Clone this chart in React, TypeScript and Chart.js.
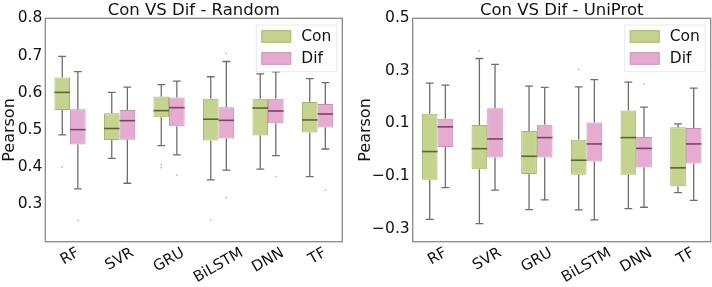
import React, { useEffect, useRef } from 'react';
import { Chart, registerables } from 'chart.js';

Chart.register(...registerables);

const categories = ['RF', 'SVR', 'GRU', 'BiLSTM', 'DNN', 'TF'];
const seriesNames = ['Con', 'Dif'];

// ---- Random split ----
const randomConLow = [0.487, 0.424, 0.458, 0.366, 0.395, 0.375];
const randomConQ1 = [0.554, 0.473, 0.534, 0.472, 0.485, 0.493];
const randomConMedian = [0.601, 0.504, 0.552, 0.529, 0.559, 0.527];
const randomConQ3 = [0.641, 0.545, 0.59, 0.584, 0.584, 0.575];
const randomConHigh = [0.698, 0.601, 0.622, 0.643, 0.651, 0.638];
const randomConOutliers = [[0.401], [], [0.407, 0.399], [0.258], [], []];

const randomDifLow = [0.342, 0.357, 0.433, 0.392, 0.431, 0.449];
const randomDifQ1 = [0.461, 0.474, 0.51, 0.477, 0.518, 0.507];
const randomDifMedian = [0.501, 0.525, 0.56, 0.526, 0.551, 0.543];
const randomDifQ3 = [0.556, 0.554, 0.587, 0.561, 0.584, 0.57];
const randomDifHigh = [0.657, 0.615, 0.631, 0.684, 0.656, 0.627];
const randomDifOutliers = [[0.257], [], [0.379], [0.706, 0.318], [0.375], [0.338]];

const randomTicks = [0.3, 0.4, 0.5, 0.6, 0.7, 0.8];

// ---- UniProt split ----
const uniprotConLow = [-0.265, -0.281, -0.228, -0.229, -0.224, -0.163];
const uniprotConQ1 = [-0.114, -0.074, -0.092, -0.095, -0.095, -0.139];
const uniprotConMedian = [-0.007, 0.004, -0.025, -0.04, 0.046, -0.069];
const uniprotConQ3 = [0.137, 0.094, 0.071, 0.038, 0.149, 0.085];
const uniprotConHigh = [0.253, 0.347, 0.242, 0.239, 0.257, 0.098];
const uniprotConOutliers = [[], [0.377], [], [0.306], [], []];

const uniprotDifLow = [-0.144, -0.154, -0.191, -0.267, -0.219, -0.193];
const uniprotDifQ1 = [0.01, -0.03, -0.03, -0.045, -0.068, -0.052];
const uniprotDifMedian = [0.087, 0.041, 0.046, 0.022, 0.005, 0.022];
const uniprotDifQ3 = [0.118, 0.158, 0.095, 0.104, 0.048, 0.083];
const uniprotDifHigh = [0.246, 0.325, 0.237, 0.267, 0.162, 0.234];
const uniprotDifOutliers = [[], [], [], [], [0.251], []];

const uniprotTicks = [-0.3, -0.1, 0.1, 0.3, 0.5];

type Stats = {
  low: number[];
  q1: number[];
  med: number[];
  q3: number[];
  high: number[];
  out: number[][];
};

const FONT = '"DejaVu Sans", "Liberation Sans", sans-serif';
const FILLS = ['#c4d48e', '#e5abd0'];
const EDGES = ['#a4b56c', '#c98fb3'];
const MEDIANS = ['#5e6236', '#7c4563'];
const WHISKER = '#6e6e6e';
const FRAME = '#8a8a8a';

const fmt = (v: number) => {
  const s = Math.abs(v).toFixed(1);
  return v < -1e-9 ? '\u2212' + s : s;
};

const boxPlugin = {
  id: 'boxExtras',
  afterDatasetsDraw(chart: any, _args: any, opts: any) {
    const { ctx } = chart;
    const y = chart.scales.y;
    const stats: Stats[] = opts.stats;
    ctx.save();
    stats.forEach((st, d) => {
      const meta = chart.getDatasetMeta(d);
      meta.data.forEach((bar: any, i: number) => {
        const x = bar.x;
        const w = bar.width;
        const yLow = y.getPixelForValue(st.low[i]);
        const yQ1 = y.getPixelForValue(st.q1[i]);
        const yQ3 = y.getPixelForValue(st.q3[i]);
        const yHigh = y.getPixelForValue(st.high[i]);
        const yMed = y.getPixelForValue(st.med[i]);
        ctx.strokeStyle = WHISKER;
        ctx.lineWidth = 1.3;
        ctx.beginPath();
        ctx.moveTo(x, yQ1);
        ctx.lineTo(x, yLow);
        ctx.moveTo(x, yQ3);
        ctx.lineTo(x, yHigh);
        ctx.moveTo(x - w / 4, yLow);
        ctx.lineTo(x + w / 4, yLow);
        ctx.moveTo(x - w / 4, yHigh);
        ctx.lineTo(x + w / 4, yHigh);
        ctx.stroke();
        ctx.strokeStyle = MEDIANS[d];
        ctx.lineWidth = 1.6;
        ctx.beginPath();
        ctx.moveTo(x - w / 2, yMed);
        ctx.lineTo(x + w / 2, yMed);
        ctx.stroke();
        ctx.fillStyle = '#b8b8b8';
        st.out[i].forEach((v) => {
          ctx.beginPath();
          ctx.arc(x, y.getPixelForValue(v), 0.9, 0, Math.PI * 2);
          ctx.fill();
        });
      });
    });
    ctx.restore();
  },
  afterDraw(chart: any, _args: any, opts: any) {
    const { ctx, chartArea: a } = chart;
    const xs = chart.scales.x;
    ctx.save();
    // frame
    ctx.strokeStyle = FRAME;
    ctx.lineWidth = 1.3;
    ctx.strokeRect(a.left, a.top, a.right - a.left, a.bottom - a.top);
    // title
    ctx.fillStyle = '#111';
    ctx.font = `16.5px ${FONT}`;
    ctx.textAlign = 'center';
    ctx.textBaseline = 'alphabetic';
    ctx.fillText(opts.title, (a.left + a.right) / 2, 14.5);
    // x labels rotated 30deg, centered on ticks
    ctx.font = `15px ${FONT}`;
    const ang = (30 * Math.PI) / 180;
    (chart.data.labels as string[]).forEach((lab, i) => {
      const tx = xs.getPixelForValue(i);
      const w = ctx.measureText(lab).width;
      const h = 15 * 0.8;
      const H = w * Math.sin(ang) + h * Math.cos(ang);
      const cy = a.bottom + 5 + H / 2;
      ctx.save();
      ctx.translate(tx, cy);
      ctx.rotate(-ang);
      ctx.textAlign = 'center';
      ctx.textBaseline = 'middle';
      ctx.fillText(lab, 0, 0);
      ctx.restore();
    });
    // legend
    const lx = a.right - 86;
    const ly = 25;
    ctx.fillStyle = 'rgba(255,255,255,0.85)';
    ctx.strokeStyle = 'rgba(0,0,0,0.09)';
    ctx.lineWidth = 1;
    ctx.beginPath();
    ctx.rect(lx, ly, 80.5, 46.7);
    ctx.fill();
    ctx.stroke();
    chart.data.datasets.forEach((ds: any, d: number) => {
      const bx = a.right - 80.5;
      const by = 30.7 + d * 22;
      ctx.fillStyle = FILLS[d];
      ctx.strokeStyle = EDGES[d];
      ctx.fillRect(bx, by, 29, 11.6);
      ctx.strokeRect(bx, by, 29, 11.6);
      ctx.fillStyle = '#111';
      ctx.font = `15.5px ${FONT}`;
      ctx.textAlign = 'left';
      ctx.textBaseline = 'middle';
      ctx.fillText(ds.label, bx + 39.5, by + 6);
    });
    ctx.restore();
  },
};

function makeConfig(
  title: string,
  con: Stats,
  dif: Stats,
  yMin: number,
  yMax: number,
  ticks: number[],
  yWidth: number,
  rightPad: number
): any {
  const stats = [con, dif];
  return {
    type: 'bar',
    data: {
      labels: categories,
      datasets: stats.map((st, d) => ({
        label: seriesNames[d],
        data: st.q1.map((q, i) => [q, st.q3[i]]),
        backgroundColor: FILLS[d],
        borderColor: EDGES[d],
        borderWidth: 1,
        borderSkipped: false,
        categoryPercentage: 0.63,
        barPercentage: 1,
      })),
    },
    options: {
      responsive: false,
      animation: false,
      events: [],
      layout: { padding: { top: 18.3, right: rightPad, bottom: 0, left: 0 } },
      plugins: {
        legend: { display: false },
        title: { display: false },
        tooltip: { enabled: false },
        boxExtras: { stats, title },
      },
      scales: {
        x: {
          grid: { display: false, drawTicks: false },
          border: { display: false },
          ticks: { display: false },
          afterFit: (s: any) => {
            s.height = 45.3;
          },
        },
        y: {
          min: yMin,
          max: yMax,
          grid: { display: false, drawTicks: false },
          border: { display: false },
          afterBuildTicks: (s: any) => {
            s.ticks = ticks.map((v) => ({ value: v }));
          },
          ticks: {
            padding: 3,
            color: '#111',
            font: { family: FONT, size: 15.5 },
            callback: (v: any) => fmt(Number(v)),
          },
          title: {
            display: true,
            text: 'Pearson',
            color: '#111',
            font: { family: FONT, size: 16 },
            padding: { top: 0, bottom: 0 },
          },
          afterFit: (s: any) => {
            s.width = yWidth;
          },
        },
      },
    },
    plugins: [boxPlugin],
  };
}

function BoxChart(props: { config: () => any }) {
  const ref = useRef<HTMLCanvasElement | null>(null);
  useEffect(() => {
    if (!ref.current) return;
    const chart = new Chart(ref.current, props.config());
    return () => chart.destroy();
  }, []);
  return <canvas ref={ref} width={356} height={287} style={{ display: 'block', width: 356, height: 287 }} />;
}

export default function App() {
  const randomCon: Stats = {
    low: randomConLow, q1: randomConQ1, med: randomConMedian, q3: randomConQ3, high: randomConHigh, out: randomConOutliers,
  };
  const randomDif: Stats = {
    low: randomDifLow, q1: randomDifQ1, med: randomDifMedian, q3: randomDifQ3, high: randomDifHigh, out: randomDifOutliers,
  };
  const uniCon: Stats = {
    low: uniprotConLow, q1: uniprotConQ1, med: uniprotConMedian, q3: uniprotConQ3, high: uniprotConHigh, out: uniprotConOutliers,
  };
  const uniDif: Stats = {
    low: uniprotDifLow, q1: uniprotDifQ1, med: uniprotDifMedian, q3: uniprotDifQ3, high: uniprotDifHigh, out: uniprotDifOutliers,
  };
  return (
    <div style={{ position: 'fixed', left: 0, top: 0, width: 712, height: 287, display: 'flex', background: '#fff' }}>
      <BoxChart config={() => makeConfig('Con VS Dif - Random', randomCon, randomDif, 0.2, 0.8, randomTicks, 45.3, 13.7)} />
      <BoxChart config={() => makeConfig('Con VS Dif - UniProt', uniCon, uniDif, -0.35, 0.5, uniprotTicks, 56.7, 1.3)} />
    </div>
  );
}
